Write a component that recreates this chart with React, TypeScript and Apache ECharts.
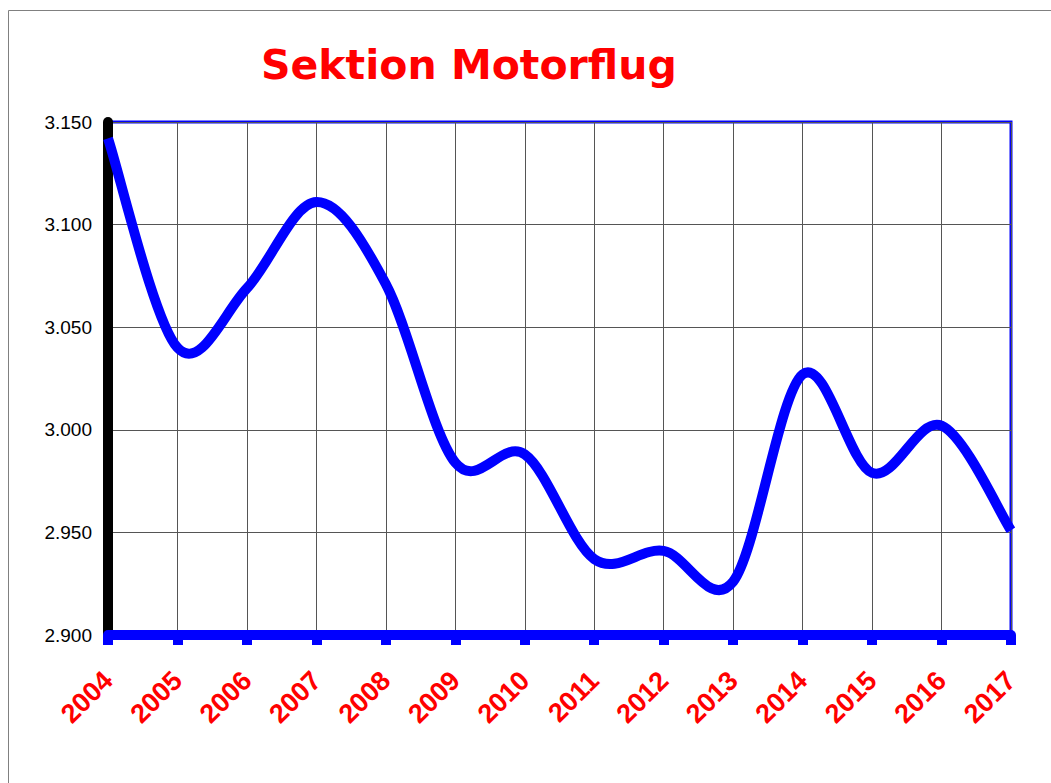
import React, { useEffect, useRef } from "react";
import * as echarts from "echarts";

const years = ["2004", "2005", "2006", "2007", "2008", "2009", "2010", "2011", "2012", "2013", "2014", "2015", "2016", "2017"];
const members = [3.142, 3.040, 3.069, 3.111, 3.071, 2.984, 2.988, 2.937, 2.941, 2.926, 3.027, 2.979, 3.002, 2.951];
const yMin = 2.9;
const yMax = 3.15;
const yStep = 0.05;
const titleText = "Sektion Motorflug";

// Excel-style smoothed line: Catmull-Rom spline through the data points, mapped via the axes.
function renderSmooth(params: any, api: any) {
  if (params.dataIndex !== 0) return null;
  const pts = members.map((v, i) => api.coord([i, v]));
  const n = pts.length;
  let d = `M${pts[0][0]},${pts[0][1]}`;
  for (let i = 0; i < n - 1; i++) {
    const p0 = pts[Math.max(i - 1, 0)];
    const p1 = pts[i];
    const p2 = pts[i + 1];
    const p3 = pts[Math.min(i + 2, n - 1)];
    const c1x = p1[0] + (p2[0] - p0[0]) / 6;
    const c1y = p1[1] + (p2[1] - p0[1]) / 6;
    const c2x = p2[0] - (p3[0] - p1[0]) / 6;
    const c2y = p2[1] - (p3[1] - p1[1]) / 6;
    d += ` C${c1x},${c1y} ${c2x},${c2y} ${p2[0]},${p2[1]}`;
  }
  return {
    type: "path",
    shape: { pathData: d },
    style: { fill: "none", stroke: "#0000ff", lineWidth: 10, lineJoin: "round", lineCap: "butt" },
    z2: 10,
  };
}

export default function App() {
  const ref = useRef<HTMLDivElement>(null);
  useEffect(() => {
    if (!ref.current) return;
    const chart = echarts.init(ref.current, null, { renderer: "svg" });
    chart.setOption({
      animation: false,
      backgroundColor: "#ffffff",
      title: {
        text: titleText,
        left: 256,
        top: 39,
        textStyle: {
          color: "#ff0000",
          fontFamily: "DejaVu Sans",
          fontWeight: "bold",
          fontSize: 41,
        },
      },
      graphic: [
        {
          type: "rect",
          shape: { x: 8.5, y: 10.5, width: 1200, height: 900 },
          style: { fill: "none", stroke: "#808080", lineWidth: 1 },
          silent: true,
          z: -10,
        },
      ],
      grid: {
        left: 108,
        right: 40,
        top: 122,
        bottom: 148,
        show: true,
        borderColor: "#0000ff",
        borderWidth: 3,
        backgroundColor: "transparent",
      },
      xAxis: {
        type: "category",
        data: years,
        boundaryGap: false,
        axisLine: { show: true, lineStyle: { color: "#0000ff", width: 10 } },
        axisTick: { show: true, interval: 0, length: 10, lineStyle: { color: "#0000ff", width: 10 } },
        splitLine: { show: true, interval: 0, lineStyle: { color: "#555555", width: 1 } },
        axisLabel: {
          interval: 0,
          rotate: 45,
          margin: 41,
          color: "#ff0000",
          fontFamily: "Liberation Sans, Arial",
          fontWeight: "bold",
          fontSize: 27,
        },
      },
      yAxis: {
        type: "value",
        min: yMin,
        max: yMax,
        interval: yStep,
        axisLine: { show: true, lineStyle: { color: "#000000", width: 10 } },
        axisTick: { show: false },
        splitLine: { show: true, lineStyle: { color: "#555555", width: 1 } },
        axisLabel: {
          margin: 16,
          color: "#000000",
          fontFamily: "Liberation Sans, Arial",
          fontSize: 19,
          formatter: (v: number) => v.toFixed(3),
        },
      },
      series: [
        {
          type: "custom",
          data: members.map((v, i) => [i, v]),
          renderItem: renderSmooth,
          clip: false,
          z: 5,
        },
      ],
    });
    return () => chart.dispose();
  }, []);
  return <div ref={ref} style={{ position: "fixed", left: 0, top: 0, width: 1051, height: 783 }} />;
}
